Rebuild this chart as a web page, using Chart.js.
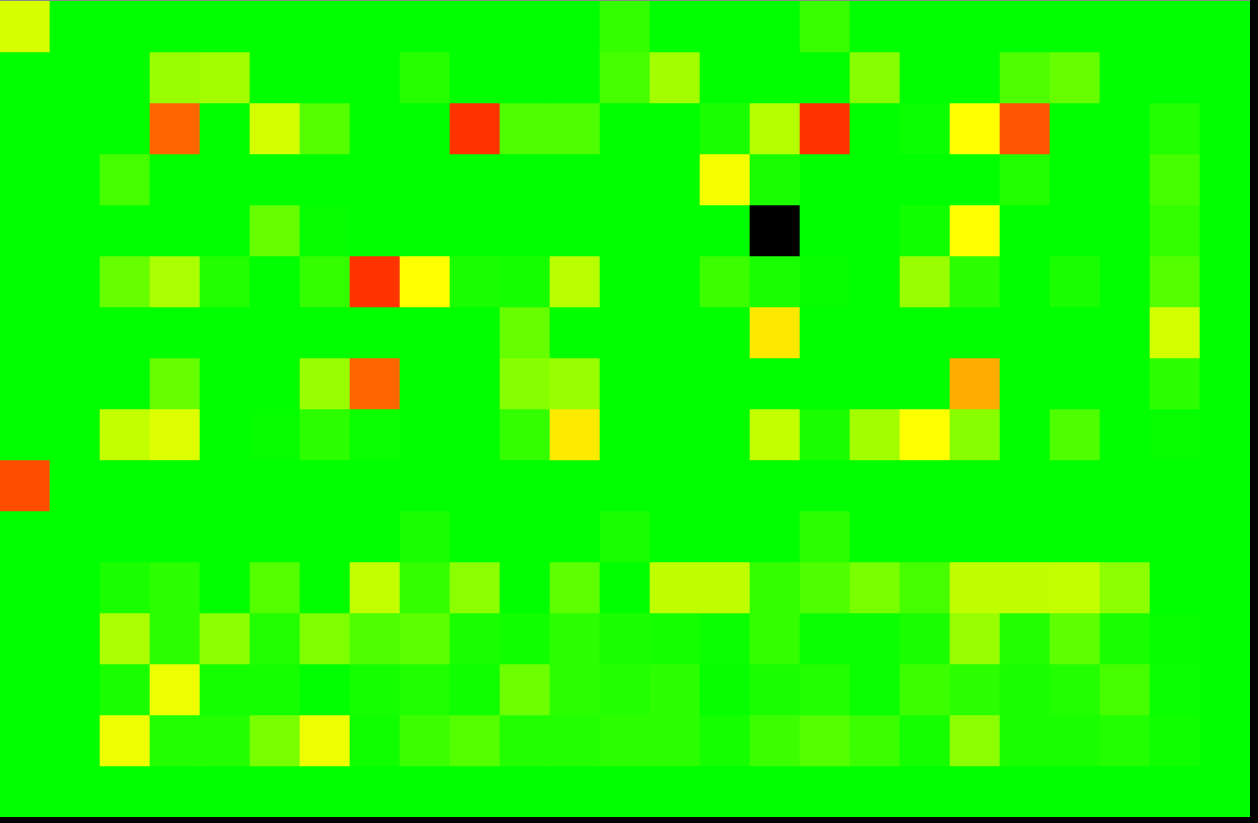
<!DOCTYPE html>
<html><head><meta charset="utf-8">
<script src="https://cdn.jsdelivr.net/npm/chart.js@4/dist/chart.umd.min.js"></script>
<style>
html,body{margin:0;padding:0;background:#000;overflow:hidden;width:1258px;height:823px}
#wrap{position:absolute;left:0;top:0;width:1250px;height:817px;border-top:1px solid #8a8a8a;box-sizing:border-box;background:#00ff00}
canvas{display:block}
</style></head>
<body>
<div id="wrap"><canvas id="c" width="1250" height="816"></canvas></div>
<script>
// Heat values: 0 = green, 1 = yellow, 2 = red, null = no data (black)
const cols = Array.from({length:25}, (_, i) => 'C' + (i + 1));
const rowLabels = Array.from({length:16}, (_, i) => 'R' + (i + 1));

const r0  = [0.84,0,0,0,0,0,0,0,0,0,0,0,0.2,0,0,0,0.22,0,0,0,0,0,0,0,0];
const r1  = [0,0,0,0.6,0.64,0,0,0,0.15,0,0,0,0.27,0.64,0,0,0,0.53,0,0,0.3,0.4,0,0,0];
const r2  = [0,0,0,1.6,0,0.83,0.33,0,0,1.8,0.3,0.3,0,0,0.1,0.7,1.8,0,0.04,1.0,1.67,0,0,0.13,0];
const r3  = [0,0,0.27,0,0,0,0,0,0,0,0,0,0,0,0.96,0.1,0,0,0,0,0.13,0,0,0.27,0];
const r4  = [0,0,0,0,0,0.4,0.02,0,0,0,0,0,0,0,0,null,0,0,0.06,1.0,0,0,0,0.2,0];
const r5  = [0,0,0.4,0.67,0.13,0,0.2,1.8,1.0,0.1,0.08,0.73,0,0,0.23,0.1,0.02,0,0.6,0.17,0,0.1,0,0.33,0];
const r6  = [0,0,0,0,0,0,0,0,0,0,0.4,0,0,0,0,1.09,0,0,0,0,0,0,0,0.83,0];
const r7  = [0,0,0,0.4,0,0,0.6,1.6,0,0,0.53,0.6,0,0,0,0,0,0,0,1.33,0,0,0,0.17,0];
const r8  = [0,0,0.77,0.87,0,0.02,0.17,0.04,0,0,0.2,1.08,0,0,0,0.77,0.1,0.64,1.0,0.53,0,0.3,0,0.02,0];
const r9  = [1.7,0,0,0,0,0,0,0,0,0,0,0,0,0,0,0,0,0,0,0,0,0,0,0,0];
const r10 = [0,0,0,0,0,0,0,0,0.1,0,0,0,0.1,0,0,0,0.17,0,0,0,0,0,0,0,0];
const r11 = [0,0,0.1,0.17,0,0.33,0,0.77,0.2,0.55,0,0.37,0,0.75,0.75,0.2,0.3,0.47,0.27,0.75,0.75,0.77,0.55,0,0];
const r12 = [0,0,0.67,0.17,0.55,0.13,0.5,0.3,0.36,0.1,0.06,0.17,0.1,0.08,0.04,0.2,0.04,0.04,0.1,0.6,0.13,0.37,0.1,0.02,0];
const r13 = [0,0,0.1,0.93,0.08,0.08,0,0.08,0.12,0.06,0.43,0.17,0.13,0.17,0.02,0.1,0.13,0.04,0.23,0.17,0.1,0.13,0.27,0.04,0];
const r14 = [0,0,0.93,0.13,0.13,0.47,0.93,0.06,0.23,0.33,0.13,0.13,0.17,0.17,0.08,0.23,0.33,0.23,0.08,0.55,0.1,0.1,0.13,0.06,0];
const r15 = [0,0,0,0,0,0,0,0,0,0,0,0,0,0,0,0,0,0,0,0,0,0,0,0,0];

const rows = [r0,r1,r2,r3,r4,r5,r6,r7,r8,r9,r10,r11,r12,r13,r14,r15];

function heat(v){
  if (v === null || v === undefined) return 'rgb(0,0,0)';
  let r, g;
  if (v <= 1) { r = Math.round(255 * v); g = 255; }
  else { r = 255; g = Math.round(255 * (2 - v)); }
  return 'rgb(' + r + ',' + g + ',0)';
}

const datasets = rows.map((vals, ri) => ({
  label: rowLabels[ri],
  data: vals.map(() => [ri, ri + 1]),
  heat: vals,
  backgroundColor: vals.map(heat),
  borderWidth: 0,
  grouped: false,
  barPercentage: 1,
  categoryPercentage: 1
}));

new Chart(document.getElementById('c'), {
  type: 'bar',
  data: { labels: cols, datasets },
  options: {
    responsive: false,
    animation: false,
    devicePixelRatio: 1,
    layout: { padding: 0 },
    plugins: { legend: { display: false }, tooltip: { enabled: false } },
    scales: {
      x: { display: false, offset: true, grid: { display: false } },
      y: { display: false, min: 0, max: 16, reverse: true, grid: { display: false } }
    }
  }
});
</script>
</body></html>
